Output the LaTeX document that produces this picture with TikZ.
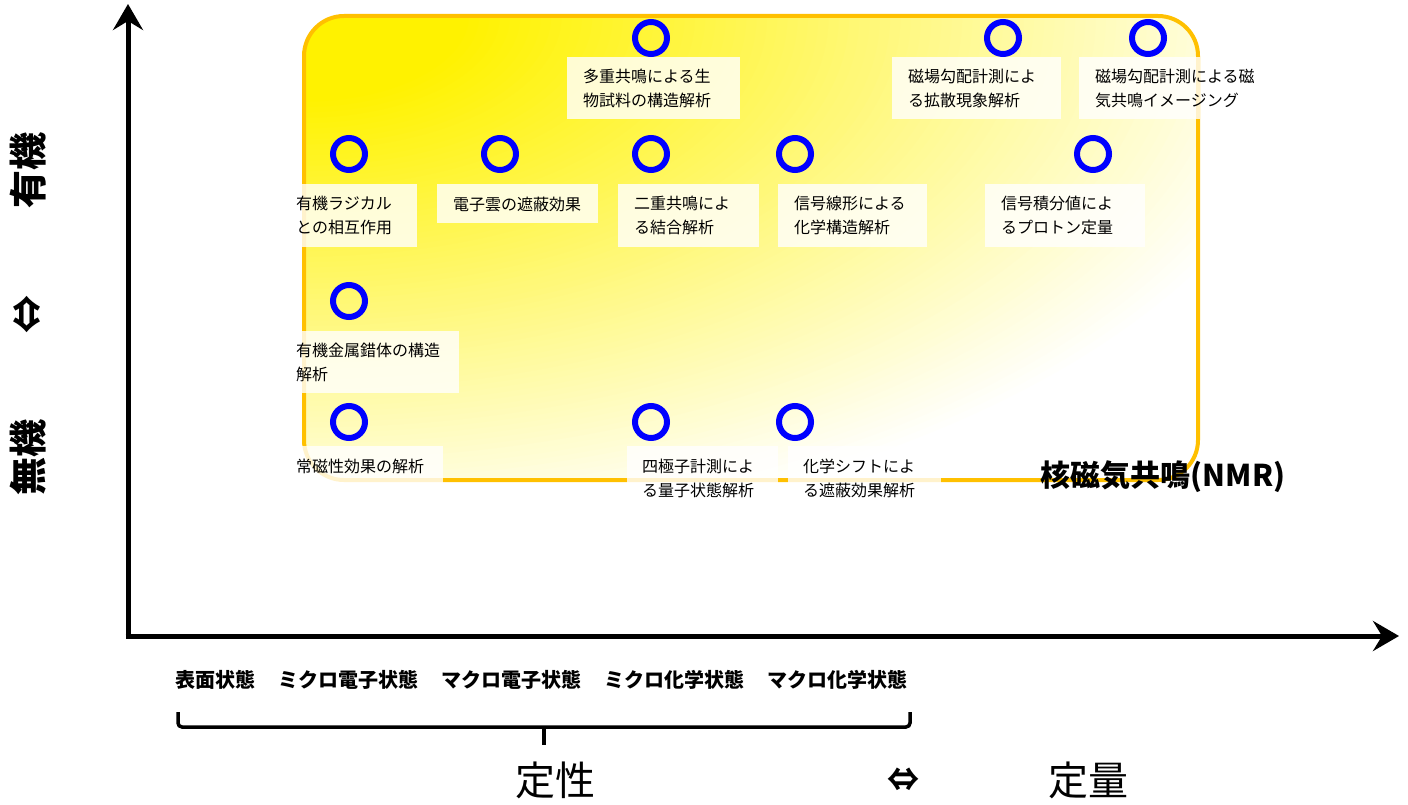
\documentclass[tikz,border=0pt]{standalone}
\usepackage{fontspec}
\setmainfont{Noto Sans CJK JP}
\usetikzlibrary{arrows.meta}
\definecolor{nmrorange}{HTML}{FFC000}
\definecolor{nmrblue}{HTML}{0000FF}
\begin{document}
\begin{tikzpicture}[x=1pt,y=-1pt,
  axisline/.style={line width=5pt,-{Stealth[length=26pt,width=30pt,inset=9pt]}},
  marker/.style={circle,draw=nmrblue,line width=6pt,minimum size=32pt,inner sep=0pt},
  lblbox/.style={fill=white,fill opacity=0.8},
  lbl/.style={anchor=west,inner sep=0pt,align=left,font=\fontsize{16}{24}\selectfont},
  cat/.style={anchor=west,inner sep=0pt,font=\bfseries\fontsize{20}{24}\selectfont},
  sidelbl/.style={rotate=90,inner sep=0pt,font=\bfseries\fontsize{38}{38}\selectfont},
  biglbl/.style={inner sep=0pt,font=\fontsize{40}{40}\selectfont},
  bracel/.style={line width=3.5pt,rounded corners=4pt}]
\useasboundingbox (0,0) rectangle (1408,805);

% NMR region: radial gradient from the top-left corner
\begin{scope}
  \clip[rounded corners=40pt] (304,16) rectangle (1198,480);
  \foreach \r in {1.00,0.99,...,0.15} {
    \pgfmathsetmacro\pct{max(0,min(100,100*(1-(\r-0.16)/0.84)))}
    \fill[yellow!\pct!white] (304,16) ellipse [x radius={\r*1028pt}, y radius={\r*534pt}];
  }
\end{scope}
\draw[draw=nmrorange,line width=4pt,rounded corners=40pt] (304,16) rectangle (1198,480);

% label backgrounds
\fill[lblbox] (567,57) rectangle (740,119);
\fill[lblbox] (892,57) rectangle (1061,119);
\fill[lblbox] (1079,57) rectangle (1200,119);
\fill[lblbox] (302,184) rectangle (417,247);
\fill[lblbox] (437,184) rectangle (598,223);
\fill[lblbox] (618,184) rectangle (759,247);
\fill[lblbox] (778,184) rectangle (927,247);
\fill[lblbox] (985,184) rectangle (1145,247);
\fill[lblbox] (302,331) rectangle (459,393);
\fill[lblbox] (302,446) rectangle (443,484);
\fill[lblbox] (627,446) rectangle (778,504);
\fill[lblbox] (788,446) rectangle (941,504);

% markers
\node[marker] (m1) at (651,38) {};
\node[marker] (m2) at (1003,38) {};
\node[marker] (m3) at (1148,38) {};
\node[marker] (m4) at (349,154) {};
\node[marker] (m5) at (500,154) {};
\node[marker] (m6) at (651,154) {};
\node[marker] (m7) at (795,154) {};
\node[marker] (m8) at (1093,154) {};
\node[marker] (m9) at (349,301) {};
\node[marker] (m10) at (349,422) {};
\node[marker] (m11) at (651,422) {};
\node[marker] (m12) at (795,422) {};

% labels
\node[lbl] (t1) at (583,88) {多重共鳴による生\\物試料の構造解析};
\node[lbl] (t2) at (908,88) {磁場勾配計測によ\\る拡散現象解析};
\node[lbl] (t3) at (1095,88) {磁場勾配計測による磁\\気共鳴イメージング};
\node[lbl] (t4) at (296,215.5) {有機ラジカル\\との相互作用};
\node[lbl] (t5) at (453,204) {電子雲の遮蔽効果};
\node[lbl] (t6) at (634,215.5) {二重共鳴によ\\る結合解析};
\node[lbl] (t7) at (794,215.5) {信号線形による\\化学構造解析};
\node[lbl] (t8) at (1001,215.5) {信号積分値によ\\るプロトン定量};
\node[lbl] (t9) at (296,362) {有機金属錯体の構造\\解析};
\node[lbl] (t10) at (296,466) {常磁性効果の解析};
\node[lbl] (t11) at (642,478) {四極子計測によ\\る量子状態解析};
\node[lbl] (t12) at (803,478) {化学シフトによ\\る遮蔽効果解析};

\node[inner sep=0pt,font=\bfseries\fontsize{30}{30}\selectfont] (nmr) at (1163,477) {核磁気共鳴(NMR)};

% axes
\coordinate (origin) at (128,636);
\coordinate (ytop) at (128,4);
\coordinate (xstart) at (125.5,636);
\coordinate (xend) at (1399,636);
\draw[axisline] (origin) -- (ytop);
\draw[axisline] (xstart) -- (xend);

% side labels
\node[sidelbl] (org) at (28,170) {有機};
\node[sidelbl] (lr) at (28,314) {⇔};
\node[sidelbl] (inorg) at (28,457) {無機};

% categories
\node[cat] (c1) at (175,680) {表面状態};
\node[cat] (c2) at (278,680) {ミクロ電子状態};
\node[cat] (c3) at (441,680) {マクロ電子状態};
\node[cat] (c4) at (604,680) {ミクロ化学状態};
\node[cat] (c5) at (767,680) {マクロ化学状態};

% brace
\coordinate (bl) at (178,712);
\coordinate (blc) at (178,727);
\coordinate (brc) at (910,727);
\coordinate (br) at (910,712);
\coordinate (bm) at (544,727);
\coordinate (btip) at (544,745);
\draw[bracel] (bl) -- (blc) -- (brc) -- (br);
\draw[line width=3.5pt] (bm) -- (btip);

% bottom
\node[biglbl] (qual) at (555,780) {定性};
\node[inner sep=0pt,font=\bfseries\fontsize{32}{32}\selectfont] (qq) at (903,780) {⇔};
\node[biglbl] (quant) at (1088,780) {定量};
\end{tikzpicture}
\end{document}
